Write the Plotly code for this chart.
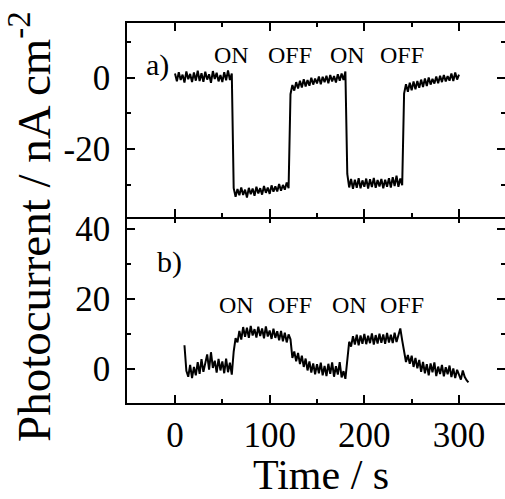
import plotly.graph_objects as go

# ---------------- data ----------------
time_a = list(range(0, 301, 2))
current_a = [
    # 0..60 s (dark)
    1.2, -1.0, 1.6, -0.6, 0.9, -1.3, 1.8, -0.4, 1.1, -1.2,
    1.5, -0.8, 2.0, -0.9, 1.3, -1.1, 1.7, -0.5, 1.0, -1.4,
    1.9, -0.3, 1.4, -1.0, 0.8, -1.2, 1.6, -0.7, 2.1, -0.6, 1.2,
    # 62..120 s (light ON)
    -31.0, -33.4, -31.2, -33.0, -30.8, -32.9, -31.4, -33.6, -30.9, -32.7,
    -31.1, -33.1, -30.6, -32.5, -31.0, -32.8, -30.4, -32.3, -30.8, -32.6,
    -30.2, -32.0, -30.5, -31.9, -29.8, -31.7, -30.1, -31.4, -29.4, -31.0,
    # 122..180 s (OFF)
    -4.6, -2.0, -3.6, -1.2, -3.0, -0.8, -2.7, -0.4, -2.4, -0.6,
    -2.2, 0.0, -1.9, -0.2, -1.6, 0.4, -1.8, 0.3, -1.2, 0.6,
    -1.5, 0.8, -1.0, 0.5, -1.3, 1.0, -0.8, 1.2, -0.6, 1.8,
    # 182..240 s (ON)
    -27.0, -30.8, -28.4, -31.2, -28.6, -30.9, -28.2, -31.0, -28.8, -30.6,
    -28.3, -31.1, -28.5, -30.7, -28.1, -30.9, -28.7, -30.5, -28.4, -31.0,
    -28.6, -30.6, -28.2, -30.8, -27.9, -30.4, -27.5, -30.6, -28.3, -30.2,
    # 242..300 s (OFF)
    -4.4, -1.8, -3.9, -1.4, -3.5, -1.0, -3.2, -0.9, -2.8, -0.5,
    -2.6, -0.2, -2.3, 0.1, -1.9, -0.3, -1.6, 0.4, -1.5, 0.6,
    -1.2, 0.8, -1.0, 0.5, -0.8, 1.2, -0.9, 1.5, -0.5, 0.9,
]

time_b = list(range(10, 311, 2))
current_b = [
    # 10..60 s
    6.8, -0.5, -2.2, 1.2, -2.6, 0.6, -1.8, 2.0, -1.4, 2.8,
    -0.8, 1.9, 4.2, -0.2, 4.8, 0.3, 2.4, -1.0, 2.9, -0.4,
    2.2, -1.2, 3.0, -0.9, 1.8, -1.6,
    # 62..120 s (ON)
    5.0, 8.8, 7.6, 10.9, 8.4, 12.0, 9.2, 11.8, 8.9, 12.3,
    9.6, 11.4, 9.0, 12.1, 9.4, 11.6, 8.8, 12.2, 9.3, 11.0,
    8.6, 11.5, 8.9, 10.8, 8.2, 10.9, 7.9, 10.4, 7.6, 9.9,
    # 122..180 s (OFF)
    8.5, 3.2, 5.0, 2.2, 4.6, 1.4, 3.8, 0.6, 3.0, -0.4,
    2.2, -1.0, 1.6, -1.5, 1.4, -1.2, 1.8, -1.8, 0.9, -2.0,
    1.5, -1.4, 1.9, -2.2, 0.8, -1.6, 2.0, -2.4, -0.6, -2.8,
    # 182..240 s (ON)
    3.0, 7.8, 6.4, 9.4, 7.0, 9.8, 6.8, 9.6, 7.2, 10.0,
    7.1, 9.5, 7.4, 10.2, 7.0, 9.7, 7.3, 10.1, 7.5, 9.9,
    7.2, 10.3, 7.6, 9.8, 7.4, 10.4, 7.7, 10.0, 11.6, 8.2,
    # 242..310 s (OFF)
    5.2, 2.0, 4.0, 1.5, 3.8, 0.6, 3.2, 0.2, 2.6, -0.8,
    2.0, -1.2, 1.4, -1.8, 1.6, -0.9, 1.9, -2.0, 0.7, -1.4,
    1.2, -2.1, 0.5, -1.5, 1.0, -2.3, 0.2, -2.6, -0.2, -1.9,
    -3.0, -0.4, -2.2, -3.2, -3.8,
]

x_tickvals = [0, 100, 200, 300]
x_ticktext = ["0", "100", "200", "300"]
ya_tickvals = [-20, 0]
ya_ticktext = ["-20", "0"]
yb_tickvals = [0, 20, 40]
yb_ticktext = ["0", "20", "40"]

switch_labels = ["ON", "OFF", "ON", "OFF"]
switch_times_a = [60, 121, 182, 240]
switch_times_b = [65, 121, 184, 240]

# ---------------- figure ----------------
FONT = "Liberation Serif"
LW = 1.5
fig = go.Figure()
fig.add_trace(go.Scatter(x=time_a, y=current_a, mode="lines",
                         line=dict(color="black", width=2.0),
                         xaxis="x2", yaxis="y2", showlegend=False))
fig.add_trace(go.Scatter(x=time_b, y=current_b, mode="lines",
                         line=dict(color="black", width=2.0),
                         xaxis="x", yaxis="y", showlegend=False))

split_b = (403 - 215) / 380.0
split_a = split_b - LW / 380.0

xcommon = dict(range=[-50.7, 348.6], ticks="inside", ticklen=8, tickwidth=1.5,
               tickcolor="black", showline=True, linewidth=LW, linecolor="black",
               mirror="ticks", showgrid=False, zeroline=False, automargin=False,
               tickvals=x_tickvals,
               minor=dict(tickvals=[50, 150, 250], ticks="inside", ticklen=4,
                          tickwidth=1.5, tickcolor="black"))
ycommon = dict(ticks="inside", ticklen=8, tickwidth=1.5, tickcolor="black",
               showline=True, linewidth=LW, linecolor="black", mirror="ticks",
               showgrid=False, zeroline=False, automargin=False,
               tickfont=dict(family=FONT, size=35, color="black"),
               ticklabelstandoff=8)

fig.update_layout(
    width=505, height=499,
    margin=dict(l=127, r=0, t=23, b=96),
    paper_bgcolor="white", plot_bgcolor="white",
    font=dict(family=FONT, color="black"),
    xaxis=dict(xcommon, anchor="y", ticktext=x_ticktext,
               tickfont=dict(family=FONT, size=35, color="black")),
    xaxis2=dict(xcommon, anchor="y2", matches="x", showticklabels=False),
    yaxis=dict(ycommon, domain=[0, split_b], range=[-9.7, 44.0],
               tickvals=yb_tickvals, ticktext=yb_ticktext,
               minor=dict(tickvals=[10, 30], ticks="inside", ticklen=4,
                          tickwidth=1.5, tickcolor="black")),
    yaxis2=dict(ycommon, domain=[split_a, 1], range=[-38.95, 15.4],
                tickvals=ya_tickvals, ticktext=ya_ticktext,
                minor=dict(tickvals=[-30, -10, 10], ticks="inside", ticklen=4,
                           tickwidth=1.5, tickcolor="black")),
)

annotations = []
for lbl, t in zip(switch_labels, switch_times_a):
    annotations.append(dict(x=t, y=6.3, xref="x2", yref="y2", text=lbl,
                            showarrow=False, font=dict(family=FONT, size=24)))
for lbl, t in zip(switch_labels, switch_times_b):
    annotations.append(dict(x=t, y=18.4, xref="x", yref="y", text=lbl,
                            showarrow=False, font=dict(family=FONT, size=24)))
annotations.append(dict(x=-19, y=3.5, xref="x2", yref="y2", text="a)",
                        showarrow=False, font=dict(family=FONT, size=30)))
annotations.append(dict(x=-6, y=30.5, xref="x", yref="y", text="b)",
                        showarrow=False, font=dict(family=FONT, size=30)))
annotations.append(dict(x=(321 - 127) / 378.0, y=(403 - 499) / 380.0,
                        xref="paper", yref="paper", text="Time / s",
                        showarrow=False, font=dict(family=FONT, size=42),
                        borderpad=0, xanchor="center", yanchor="bottom"))
annotations.append(dict(x=(30 - 127) / 378.0, y=(403 - 227) / 380.0,
                        xref="paper", yref="paper",
                        text="Photocurrent / nA cm<sup>-2</sup>", textangle=-90,
                        showarrow=False, font=dict(family=FONT, size=47),
                        xanchor="center", yanchor="middle"))
fig.update_layout(annotations=annotations)

fig.write_html("out.html",
               config={"displayModeBar": False},
               post_script="document.body.style.margin='0px';"
                           "document.body.style.overflow='hidden';")
